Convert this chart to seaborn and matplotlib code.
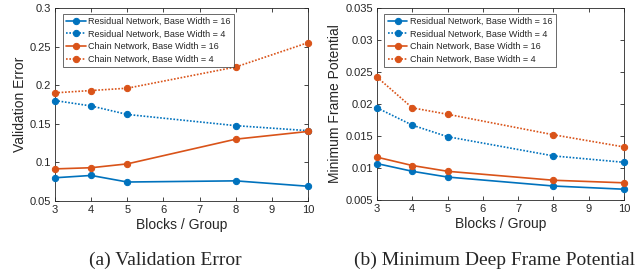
import numpy as np
import pandas as pd
import matplotlib
matplotlib.use("Agg")
import matplotlib.pyplot as plt
import seaborn as sns

# data
blocks = [3, 4, 5, 8, 10]

val_res16 = [0.080, 0.083, 0.0745, 0.076, 0.069]
val_res4 = [0.180, 0.173, 0.162, 0.1475, 0.141]
val_chain16 = [0.0915, 0.093, 0.098, 0.130, 0.140]
val_chain4 = [0.190, 0.193, 0.196, 0.2235, 0.255]

fp_res16 = [0.0107, 0.0095, 0.0086, 0.0072, 0.0067]
fp_res4 = [0.0194, 0.0167, 0.0149, 0.0119, 0.0109]
fp_chain16 = [0.0117, 0.0104, 0.0095, 0.0081, 0.0077]
fp_chain4 = [0.0242, 0.0194, 0.0184, 0.0152, 0.0133]

labels = ["Residual Network, Base Width = 16",
          "Residual Network, Base Width = 4",
          "Chain Network, Base Width = 16",
          "Chain Network, Base Width = 4"]

sns.set_style("ticks")
plt.rcParams['font.family'] = ['Liberation Sans', 'DejaVu Sans']

blue = "#0072BD"
orange = "#D95319"
colors = [blue, blue, orange, orange]
styles = ["-", (0, (1, 1)), "-", (0, (1, 1))]

fig = plt.figure(figsize=(6.39, 2.73), dpi=100)
ax1 = fig.add_axes([0.0861, 0.264, 0.396, 0.707])
ax2 = fig.add_axes([0.590, 0.267, 0.3865, 0.704])


def draw(ax, series, ylim, yticks, ylabel):
    for vals, lab, c, ls in zip(series, labels, colors, styles):
        df = pd.DataFrame({"blocks": blocks, "value": vals})
        sns.lineplot(data=df, x="blocks", y="value", ax=ax, color=c,
                     linestyle=ls, marker="o", markersize=4.5, linewidth=1.2,
                     markeredgecolor=c, label=lab, clip_on=False, zorder=3)
    ax.set_xlim(3, 10)
    ax.set_ylim(*ylim)
    ax.set_xticks(range(3, 11))
    ax.set_yticks(yticks)
    ax.set_yticklabels([f"{t:g}" for t in yticks])
    ax.set_xlabel("Blocks / Group", fontsize=10, color="#262626", labelpad=2)
    ax.set_ylabel(ylabel, fontsize=10, color="#262626", labelpad=2)
    ax.tick_params(direction="in", top=True, right=True, labelsize=8,
                   colors="#262626", length=3, width=0.6, pad=3)
    for s in ax.spines.values():
        s.set_visible(True)
        s.set_linewidth(0.6)
        s.set_color("#262626")
    leg = ax.legend(loc="upper left", bbox_to_anchor=(0.03, 0.97), fontsize=6.5,
                    frameon=True, fancybox=False, edgecolor="#262626",
                    handlelength=2.2, borderpad=0.35, labelspacing=0.4,
                    handletextpad=0.3, borderaxespad=0)
    leg.get_frame().set_linewidth(0.6)


draw(ax1, [val_res16, val_res4, val_chain16, val_chain4], (0.05, 0.3),
     [0.05, 0.1, 0.15, 0.2, 0.25, 0.3], "Validation Error")
draw(ax2, [fp_res16, fp_res4, fp_chain16, fp_chain4], (0.005, 0.035),
     [0.005, 0.01, 0.015, 0.02, 0.025, 0.03, 0.035], "Minimum Frame Potential")

fig.text(0.258, 0.046, "(a) Validation Error", ha="center", va="center",
         fontsize=14, family="Liberation Serif")
fig.text(0.774, 0.046, "(b) Minimum Deep Frame Potential", ha="center", va="center",
         fontsize=14, family="Liberation Serif")

fig.savefig("out.png", dpi=100)
